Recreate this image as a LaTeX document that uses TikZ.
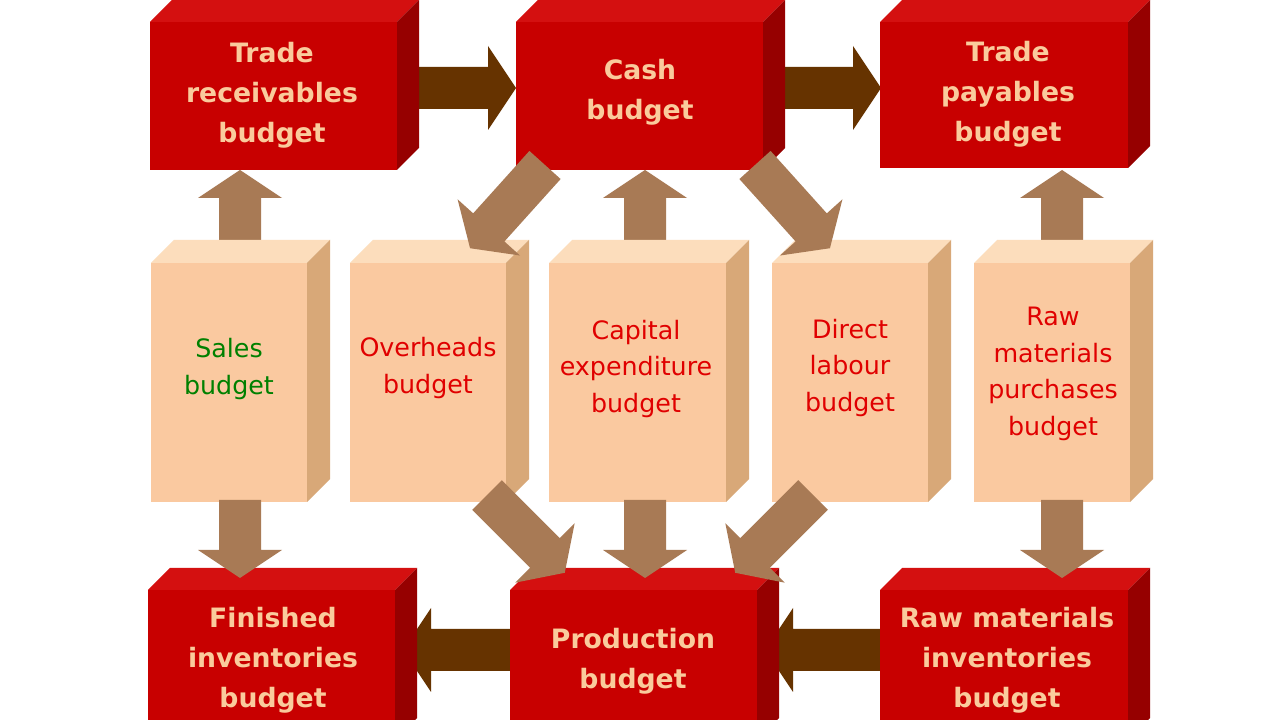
\documentclass[tikz,border=0pt]{standalone}
\usepackage{fontspec}
\setmainfont{DejaVu Sans}
\begin{document}
\begin{tikzpicture}[x=0.75pt,y=0.75pt,
  rtext/.style={text=peach,font=\fontsize{20}{30}\selectfont\bfseries,align=center},
  btext/.style={text=redtxt,font=\fontsize{19}{27.5}\selectfont,align=center}]
\definecolor{rfront}{HTML}{C80000}
\definecolor{rtop}{HTML}{D41010}
\definecolor{rside}{HTML}{960000}
\definecolor{bfront}{HTML}{FAC9A0}
\definecolor{btop}{HTML}{FCDDBC}
\definecolor{bside}{HTML}{D8A878}
\definecolor{peach}{HTML}{FACB9C}
\definecolor{redtxt}{HTML}{E00000}
\definecolor{greentxt}{HTML}{008000}
\definecolor{darkbr}{HTML}{663300}
\definecolor{lightbr}{HTML}{A87A55}
\newcommand\cube[8]{%
\fill[#6] (#1,720-#2) rectangle (#3,720-#4);
\fill[#7] (#1,720-#2)--(#1+#5,720-#2+#5)--(#3+#5,720-#2+#5)--(#3,720-#2)--cycle;
\fill[#8] (#3,720-#2)--(#3+#5,720-#2+#5)--(#3+#5,720-#4+#5)--(#3,720-#4)--cycle;}
\newcommand\barr[5]{%
\fill[#5,shift={(#1,720-#2)},rotate=#3] (0,-21)--(#4-28,-21)--(#4-28,-42)--(#4,0)--(#4-28,42)--(#4-28,21)--(0,21)--cycle;}
\useasboundingbox[fill=white] (0,0) rectangle (1280,720);
% horizontal arrows
\barr{400}{88}{0}{116}{darkbr}
\barr{765}{88}{0}{116}{darkbr}
\barr{515}{650}{180}{112}{darkbr}
\barr{885}{650}{180}{120}{darkbr}
% red boxes
\cube{150}{22}{397}{170}{22}{rfront}{rtop}{rside}
\cube{516}{22}{763}{170}{22}{rfront}{rtop}{rside}
\cube{880}{22}{1128}{168}{22}{rfront}{rtop}{rside}
\cube{148}{590}{395}{740}{22}{rfront}{rtop}{rside}
\cube{510}{590}{757}{740}{22}{rfront}{rtop}{rside}
\cube{880}{590}{1128}{740}{22}{rfront}{rtop}{rside}
% up arrows
\barr{240}{255}{90}{85}{lightbr}
\barr{645}{255}{90}{85}{lightbr}
\barr{1062}{255}{90}{85}{lightbr}
% beige boxes
\cube{151}{263}{307}{502}{23}{bfront}{btop}{bside}
\cube{350}{263}{506}{502}{23}{bfront}{btop}{bside}
\cube{549}{263}{726}{502}{23}{bfront}{btop}{bside}
\cube{772}{263}{928}{502}{23}{bfront}{btop}{bside}
\cube{974}{263}{1130}{502}{23}{bfront}{btop}{bside}
% down and diagonal arrows
\barr{240}{500}{-90}{78}{lightbr}
\barr{645}{500}{-90}{78}{lightbr}
\barr{1062}{500}{-90}{78}{lightbr}
\barr{545}{165}{-132}{112}{lightbr}
\barr{755}{165}{-48}{112}{lightbr}
\barr{487}{495}{-45}{110}{lightbr}
\barr{813}{495}{-135}{110}{lightbr}
% texts
\node[rtext] (tr) at (272,720-95) {Trade\\receivables\\budget};
\node[rtext] (cb) at (640,720-92) {Cash\\budget};
\node[rtext] (tp) at (1008,720-94) {Trade\\payables\\budget};
\node[btext,text=greentxt] (sb) at (229,720-369) {Sales\\budget};
\node[btext] (ob) at (428,720-368) {Overheads\\budget};
\node[btext] (ce) at (636,720-369) {Capital\\expenditure\\budget};
\node[btext] (dl) at (850,720-368) {Direct\\labour\\budget};
\node[btext] (rm) at (1053,720-374) {Raw\\materials\\purchases\\budget};
\node[rtext] (fi) at (273,720-660) {Finished\\inventories\\budget};
\node[rtext] (pb) at (633,720-661) {Production\\budget};
\node[rtext] (ri) at (1007,720-660) {Raw materials\\inventories\\budget};
\end{tikzpicture}
\end{document}
